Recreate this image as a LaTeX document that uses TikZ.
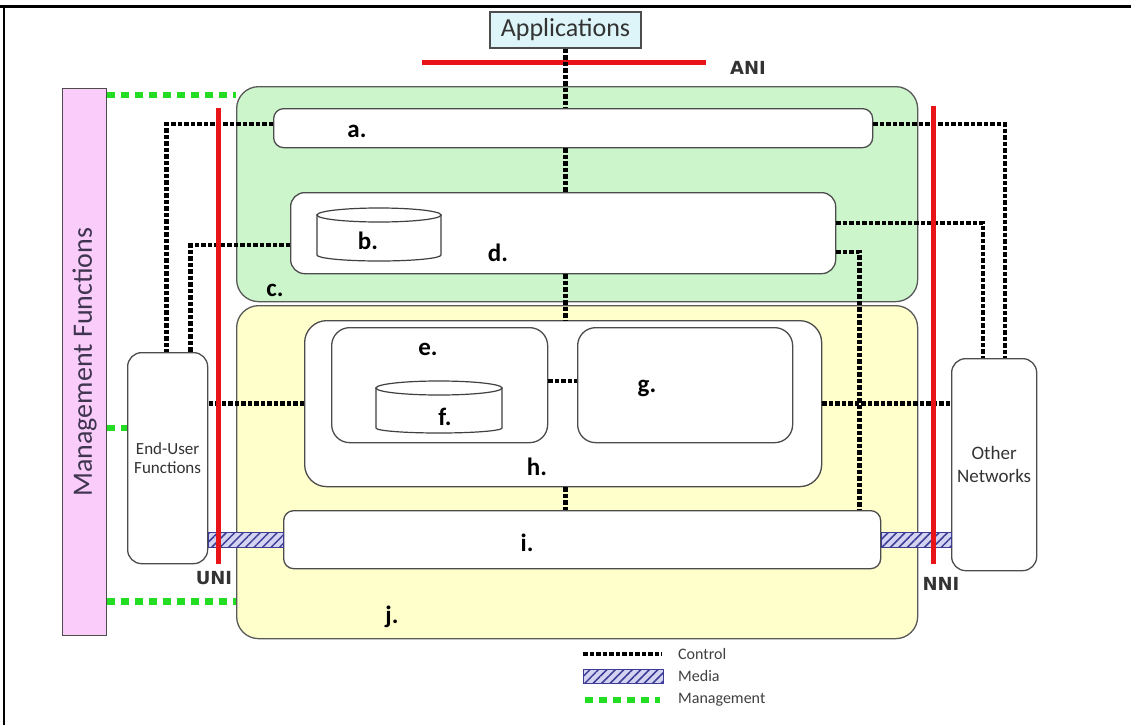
\documentclass[tikz,border=0pt]{standalone}
\usepackage{fontspec}
\setmainfont{Carlito}
\newfontfamily\ifacefont{DejaVu Sans}
\usetikzlibrary{positioning,calc,patterns.meta}
\definecolor{ctlC}{HTML}{CCF5CC}
\definecolor{trnC}{HTML}{FFFFCC}
\definecolor{mgmtC}{HTML}{F9CCF9}
\definecolor{mgmtTxt}{HTML}{403550}
\definecolor{appC}{HTML}{DDF5F8}
\definecolor{mgmtLine}{HTML}{22DD22}
\definecolor{ifaceC}{HTML}{E81418}
\definecolor{mediaC}{HTML}{D4D4F2}
\definecolor{mediaL}{HTML}{3C3C96}
\newcommand{\tagfont}{\fontsize{25}{30}\selectfont\bfseries}
\tikzset{
  region/.style={draw=black!65, line width=1.3pt, rounded corners=22pt, anchor=north west, inner sep=0pt},
  fnbox/.style={draw=black!70, fill=white, line width=1.3pt, rounded corners=10pt, anchor=north west, inner sep=0pt},
  tag/.style={font=\tagfont, inner sep=0pt},
  drum/.style={draw=black!75, fill=white, line width=1.2pt},
  ctrl/.style={line width=4.5pt, dash pattern=on 4.5pt off 2pt},
  mgmt/.style={draw=mgmtLine, line width=6.5pt, dash pattern=on 8pt off 6pt},
  iface/.style={draw=ifaceC, line width=5pt},
  ifacetag/.style={font=\ifacefont\fontsize{18}{20}\selectfont\bfseries, text=black!80, inner sep=0pt},
  media/.style={draw=mediaL, line width=1pt, preaction={fill=mediaC}, pattern={Lines[angle=45,distance=6pt,line width=1.5pt]}, pattern color=mediaL},
  legtxt/.style={font=\fontsize{16}{18}\selectfont, text=black!75, anchor=west, inner sep=0pt},
}

\begin{document}
\begin{tikzpicture}[x=1pt, y=-1pt]
\useasboundingbox (0,0) rectangle (1131,725);
% frame
\draw[line width=3pt] (0,7) -- (1131,7);
\draw[line width=1.5pt] (4,7) -- (4,725);

% regions
\node[region, fill=ctlC, minimum width=681pt, minimum height=215pt] (regC) at (236,86) {};
\node[region, fill=trnC, minimum width=681pt, minimum height=333pt] (regJ) at (236,305) {};
\node[tag] (tagC) at (275,290) {c.};
\node[tag] (tagJ) at (392,617) {j.};

% applications + ANI
\node[draw=black!70, fill=appC, line width=1.2pt, minimum width=151pt, minimum height=36pt,
  font=\fontsize{26}{30}\selectfont, text=black!80, inner sep=0pt] (apps) at (565.5,30) {Applications};
\draw[iface] (422,62) -- (706,62);
\node[ifacetag] (aniTag) at (748,68) {ANI};

% function boxes
\node[fnbox, minimum width=599pt, minimum height=39pt] (boxA) at (273,108) {};
\node[fnbox, minimum width=545pt, minimum height=81pt, rounded corners=14pt] (boxD) at (290,192) {};
\node[fnbox, minimum width=517pt, minimum height=166pt, rounded corners=22pt] (boxH) at (304,320) {};
\node[fnbox, minimum width=216pt, minimum height=115pt, rounded corners=18pt] (boxE) at (331,327) {};
\node[fnbox, minimum width=215pt, minimum height=115pt, rounded corners=18pt] (boxG) at (577,327) {};
\node[fnbox, minimum width=597pt, minimum height=58pt] (boxI) at (283,510) {};
\node[fnbox, minimum width=80pt, minimum height=211pt, rounded corners=14pt, align=center,
  font=\fontsize{17}{19}\selectfont, text=black!80] (endUser) at (127,352) {End-User\\Functions};
\node[fnbox, minimum width=85pt, minimum height=212pt, rounded corners=14pt, align=center,
  font=\fontsize{19}{23}\selectfont, text=black!80] (other) at (951,358) {Other\\Networks};

% databases
\filldraw[drum] (317,215) -- (317,255) arc[start angle=180, end angle=0, x radius=62, y radius=6] -- (441,215) -- cycle;
\filldraw[drum] (379,215) ellipse[x radius=62, y radius=7];
\filldraw[drum] (376,388) -- (376,428) arc[start angle=180, end angle=0, x radius=63, y radius=5] -- (502,388) -- cycle;
\filldraw[drum] (439,388) ellipse[x radius=63, y radius=7];

\node[tag] (tagA) at (357,131) {a.};
\node[tag] (tagB) at (368,241) {b.};
\node[tag] (tagD) at (498,253) {d.};
\node[tag] (tagE) at (428,349) {e.};
\node[tag] (tagF) at (445,417) {f.};
\node[tag] (tagG) at (647,388) {g.};
\node[tag] (tagH) at (537,467) {h.};
\node[tag] (tagI) at (527,543) {i.};

% management
\node[draw=black!70, fill=mgmtC, line width=1.2pt, anchor=north west, minimum width=44pt,
  minimum height=547pt, inner sep=0pt] (mgmt) at (62,88) {};
\node[rotate=90, font=\fontsize{28}{30}\selectfont, text=mgmtTxt] (mgmtTag) at (mgmt.center) {Management Functions};
\coordinate (mTop) at ($(mgmt.north east)+(0,7)$);
\coordinate (mMid) at ($(endUser.west)+(0,-30)$);
\coordinate (mBot) at ($(regJ.south west)+(0,-38)$);
\draw[mgmt] (mTop) -- (mTop -| regC.west);
\draw[mgmt] (mMid -| mgmt.east) -- (mMid);
\draw[mgmt] (mBot -| mgmt.east) -- (mBot);

% media
\path[media] ($(endUser.east |- boxI.west)+(0,-7)$) rectangle ($(boxI.west)+(0,8)$);
\path[media] ($(boxI.east)+(0,-7)$) rectangle ($(other.west |- boxI.east)+(0,8)$);

% control
\draw[ctrl] (apps.south) -- (apps.south |- boxA.north);
\draw[ctrl] (apps.south |- boxA.south) -- (apps.south |- boxD.north);
\draw[ctrl] (apps.south |- boxD.south) -- (apps.south |- boxH.north);
\draw[ctrl] (apps.south |- boxH.south) -- (apps.south |- boxI.north);
\draw[ctrl] ([yshift=4pt]boxA.west) -| ([xshift=-1pt]endUser.north);
\draw[ctrl] ([yshift=-12pt]boxD.west) -| ([xshift=23pt]endUser.north);
\draw[ctrl] ([yshift=4pt]boxA.east) -| ([xshift=11pt]other.north);
\draw[ctrl] ([yshift=10pt]boxD.east) -| ([xshift=-11pt]other.north);
\draw[ctrl] ([yshift=-19pt]boxD.east) -| ([xshift=-22pt]boxI.north east);
\draw[ctrl] (boxH.west) -- (boxH.west -| endUser.east);
\draw[ctrl] (boxH.east) -- (boxH.east -| other.west);
\draw[ctrl] ([yshift=4pt]boxE.east) -- ([yshift=4pt]boxG.west);

% UNI / NNI
\draw[iface] (218,108) -- (218,564);
\node[ifacetag] (uniTag) at (214,578) {UNI};
\draw[iface] (933,106) -- (933,564);
\node[ifacetag] (nniTag) at (941,584) {NNI};

% legend
\node[legtxt] (legCtl) at (678,654) {Control};
\node[legtxt] (legMed) at (678,676) {Media};
\node[legtxt] (legMgt) at (678,700) {Management};
\draw[ctrl, line width=3.5pt] ($(legCtl.west)+(-95,0)$) -- ($(legCtl.west)+(-16,0)$);
\path[media] ($(legMed.west)+(-95,-7)$) rectangle ($(legMed.west)+(-15,7)$);
\draw[mgmt] ($(legMgt.west)+(-93,0)$) -- ($(legMgt.west)+(-18,0)$);
\end{tikzpicture}
\end{document}
